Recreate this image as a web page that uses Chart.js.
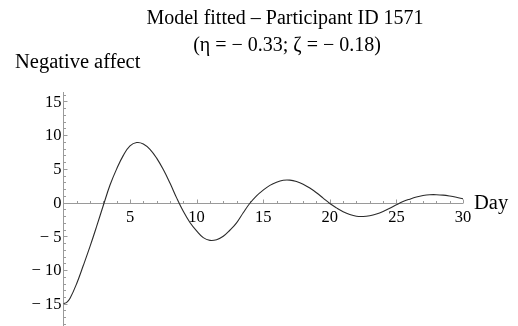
<!DOCTYPE html>
<html>
<head>
<meta charset="utf-8">
<script src="https://cdn.jsdelivr.net/npm/chart.js@4"></script>
<style>
  html, body { margin: 0; padding: 0; background: #fff; }
  #wrap { width: 518px; height: 326px; }
</style>
</head>
<body>
<div id="wrap"><canvas id="affectChart" width="518" height="326"></canvas></div>
<script>
// fitted trajectory, sampled every half day (plus one early point for the flat start)
const days = [
  0, 0.25, 0.5, 1, 1.5, 2, 2.5, 3, 3.5, 4, 4.5, 5, 5.5, 6, 6.5, 7, 7.5, 8, 8.5, 9, 9.5,
  10, 10.5, 11, 11.5, 12, 12.5, 13, 13.5, 14, 14.5, 15, 15.5, 16, 16.5, 17, 17.5,
  18, 18.5, 19, 19.5, 20, 20.5, 21, 21.5, 22, 22.5, 23, 23.5, 24, 24.5, 25, 25.5,
  26, 26.5, 27, 27.5, 28, 28.5, 29, 29.5, 30
];
const affect = [
  -15, -14.8, -14.2, -12.0, -9.3, -6.5, -3.5, -0.4, 2.6, 5.0, 7.0, 8.4, 8.9, 8.7, 7.9, 6.6, 4.9, 2.9, 0.7, -1.3, -2.95,
  -4.2, -5.2, -5.6, -5.5, -5.0, -4.1, -3.0, -1.5, -0.1, 1.0, 1.85, 2.55, 3.03, 3.31, 3.33, 3.12,
  2.73, 2.16, 1.46, 0.67, -0.13, -0.78, -1.35, -1.77, -2.02, -2.06, -1.94, -1.69, -1.32, -0.85, -0.33, 0.15,
  0.51, 0.82, 1.04, 1.16, 1.17, 1.11, 0.97, 0.78, 0.55
];
const xTickValues = [5, 10, 15, 20, 25, 30];
const yTickValues = [-15, -10, -5, 0, 5, 10, 15];
const titleLines = ['Model fitted \u2013 Participant ID 1571', '(\u03B7 = \u2212 0.33; \u03B6 = \u2212 0.18)'];
const yAxisTitle = 'Negative affect';
const xAxisTitle = 'Day';

const SERIF = '"Liberation Serif", "Times New Roman", serif';
const AXIS_GRAY = '#9a9a9a';

function fmtTick(v) {
  return v < 0 ? '\u2212 ' + (-v) : String(v);
}

// Mathematica-style axes crossing at the origin, ticks pointing inward
const originAxes = {
  id: 'originAxes',
  beforeDatasetsDraw(chart) {
    const ctx = chart.ctx;
    const xs = chart.scales.x, ys = chart.scales.y;
    const x0 = Math.round(xs.getPixelForValue(0)) + 0.5;
    const y0 = Math.round(ys.getPixelForValue(0)) + 0.5;

    ctx.save();
    ctx.strokeStyle = AXIS_GRAY;
    ctx.lineWidth = 1;
    ctx.beginPath();
    ctx.moveTo(x0, y0);
    ctx.lineTo(xs.getPixelForValue(xs.max), y0);
    ctx.moveTo(x0, ys.getPixelForValue(ys.max));
    ctx.lineTo(x0, ys.getPixelForValue(ys.min));

    // x ticks: major every 5 days, minor every day
    for (let d = 1; d <= xs.max; d++) {
      const px = Math.round(xs.getPixelForValue(d)) + 0.5;
      const len = d % 5 === 0 ? 4 : 2.5;
      ctx.moveTo(px, y0);
      ctx.lineTo(px, y0 - len);
    }
    // y ticks
    for (let v = Math.ceil(ys.min); v <= Math.floor(ys.max); v++) {
      if (v === 0) continue;
      const py = Math.round(ys.getPixelForValue(v)) + 0.5;
      const len = v % 5 === 0 ? 4 : 2.5;
      ctx.moveTo(x0, py);
      ctx.lineTo(x0 + len, py);
    }
    ctx.stroke();

    ctx.fillStyle = '#000';
    ctx.font = '16.5px ' + SERIF;
    ctx.textAlign = 'center';
    ctx.textBaseline = 'alphabetic';
    xTickValues.forEach(d => {
      ctx.fillText(fmtTick(d), xs.getPixelForValue(d), y0 + 18);
    });
    ctx.textAlign = 'right';
    ctx.textBaseline = 'middle';
    yTickValues.forEach(v => {
      ctx.fillText(fmtTick(v), x0 - 2, ys.getPixelForValue(v) + 1);
    });

    // axis names
    ctx.font = '20.5px ' + SERIF;
    ctx.textAlign = 'left';
    ctx.textBaseline = 'alphabetic';
    ctx.fillText(xAxisTitle, xs.getPixelForValue(xs.max) + 11, y0 + 5);
    ctx.fillText(yAxisTitle, 15, 68);

    // two-line heading
    ctx.font = '20px ' + SERIF;
    ctx.textAlign = 'center';
    ctx.fillText(titleLines[0], 285, 24);
    ctx.fillText(titleLines[1], 287, 51);
    ctx.restore();
  }
};

const ctx = document.getElementById('affectChart').getContext('2d');
new Chart(ctx, {
  type: 'line',
  data: {
    datasets: [{
      data: days.map((d, i) => ({ x: d, y: affect[i] })),
      borderColor: '#2a2a2a',
      borderWidth: 1.1,
      pointRadius: 0,
      tension: 0.4,
      fill: false
    }]
  },
  options: {
    responsive: false,
    devicePixelRatio: 1,
    animation: false,
    layout: { padding: { left: 63.4, right: 55, top: 92, bottom: 0 } },
    scales: {
      x: { type: 'linear', min: 0, max: 30, display: false },
      y: { type: 'linear', min: -18.3, max: 16.4, display: false }
    },
    plugins: {
      legend: { display: false },
      tooltip: { enabled: false },
      title: { display: false }
    }
  },
  plugins: [originAxes]
});
</script>
</body>
</html>
